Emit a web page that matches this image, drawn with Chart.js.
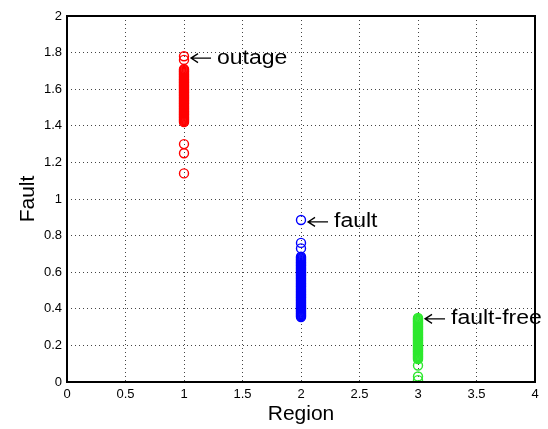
<!DOCTYPE html>
<html>
<head>
<meta charset="utf-8">
<script src="https://cdn.jsdelivr.net/npm/chart.js@4/dist/chart.umd.min.js"></script>
<style>
  html, body { margin: 0; padding: 0; background: #fff; }
  #wrap { width: 548px; height: 429px; }
</style>
</head>
<body>
<div id="wrap"><canvas id="c" width="548" height="429"></canvas></div>
<script>
// Region indices of the three groups
const regions = [1, 2, 3];
const groupNames = ['outage', 'fault', 'fault-free'];

// Fault values for each region
const outageValues = [1.14, 1.25, 1.30,
  1.420, 1.425, 1.430, 1.435, 1.440, 1.445, 1.450, 1.455, 1.460, 1.465, 1.470, 1.475,
  1.480, 1.485, 1.490, 1.495, 1.500, 1.505, 1.510, 1.515, 1.520, 1.525, 1.530, 1.535,
  1.540, 1.545, 1.550, 1.555, 1.560, 1.565, 1.570, 1.575, 1.580, 1.585, 1.590, 1.595,
  1.600, 1.605, 1.610, 1.615, 1.620, 1.625, 1.630, 1.635, 1.640, 1.645, 1.650, 1.655,
  1.660, 1.665, 1.670, 1.675, 1.680, 1.685, 1.690, 1.695, 1.700, 1.705, 1.710,
  1.76, 1.78];
const faultValues = [0.355, 0.360, 0.365, 0.370, 0.375, 0.380, 0.385, 0.390, 0.395,
  0.400, 0.405, 0.410, 0.415, 0.420, 0.425, 0.430, 0.435, 0.440, 0.445, 0.450, 0.455,
  0.460, 0.465, 0.470, 0.475, 0.480, 0.485, 0.490, 0.495, 0.500, 0.505, 0.510, 0.515,
  0.520, 0.525, 0.530, 0.535, 0.540, 0.545, 0.550, 0.555, 0.560, 0.565, 0.570, 0.575,
  0.580, 0.585, 0.590, 0.595, 0.600, 0.605, 0.610, 0.615, 0.620, 0.625, 0.630, 0.635,
  0.640, 0.645, 0.650, 0.655, 0.660, 0.665, 0.670, 0.675, 0.680, 0.685,
  0.73, 0.76, 0.885];
const faultFreeValues = [0.01, 0.03, 0.09,
  0.125, 0.130, 0.135, 0.140, 0.145, 0.150, 0.155, 0.160, 0.165, 0.170, 0.175, 0.180,
  0.185, 0.190, 0.195, 0.200, 0.205, 0.210, 0.215, 0.220, 0.225, 0.230, 0.235, 0.240,
  0.245, 0.250, 0.255, 0.260, 0.265, 0.270, 0.275, 0.280, 0.285, 0.290, 0.295, 0.300,
  0.305, 0.310, 0.315, 0.320, 0.325, 0.330, 0.335, 0.340, 0.345, 0.350];

// Tick settings
const xTicks = [0, 0.5, 1, 1.5, 2, 2.5, 3, 3.5, 4];
const yTicks = [0, 0.2, 0.4, 0.6, 0.8, 1, 1.2, 1.4, 1.6, 1.8, 2];

// Annotation anchors (data coordinates of arrow tips)
const labelTexts = ['outage', 'fault', 'fault-free'];
const labelX = [1.06, 2.06, 3.06];
const labelY = [1.77, 0.875, 0.345];

const colors = ['#ff0000', '#0000ff', '#2ee82e'];
const seriesValues = [outageValues, faultValues, faultFreeValues];

const datasets = seriesValues.map((vals, i) => ({
  label: groupNames[i],
  data: vals.map(v => ({ x: regions[i], y: v })),
  borderColor: colors[i],
  backgroundColor: 'rgba(0,0,0,0)',
  pointRadius: 4.5,
  pointHoverRadius: 4.5,
  pointBorderWidth: 1.4,
  showLine: false
}));

const FONT = "'Liberation Sans', Arial, 'DejaVu Sans', sans-serif";

const framePlugin = {
  id: 'frame',
  afterDatasetsDraw(chart) {
    const ctx = chart.ctx;
    const xs = chart.scales.x, ys = chart.scales.y;
    ctx.save();
    ctx.fillStyle = '#000';
    ctx.strokeStyle = '#000';
    ctx.lineWidth = 1.3;
    ctx.font = "20px " + FONT;
    ctx.textAlign = 'left';
    ctx.textBaseline = 'middle';
    for (let i = 0; i < labelTexts.length; i++) {
      const px = xs.getPixelForValue(labelX[i]);
      const py = ys.getPixelForValue(labelY[i]);
      // arrow
      ctx.beginPath();
      ctx.moveTo(px + 20, py);
      ctx.lineTo(px, py);
      ctx.moveTo(px + 7, py - 4.5);
      ctx.lineTo(px, py);
      ctx.lineTo(px + 7, py + 4.5);
      ctx.stroke();
      // text (slightly wide, as in the reference)
      ctx.save();
      ctx.translate(px + 26, py);
      ctx.scale(1.15, 1);
      ctx.fillText(labelTexts[i], 0, 0);
      ctx.restore();
    }
    ctx.restore();
  },
  afterDraw(chart) {
    const ctx = chart.ctx;
    const a = chart.chartArea;
    ctx.save();
    ctx.strokeStyle = '#000';
    ctx.lineWidth = 2;
    ctx.strokeRect(a.left, a.top, a.right - a.left, a.bottom - a.top);
    ctx.restore();
  }
};

new Chart(document.getElementById('c'), {
  type: 'scatter',
  data: { datasets },
  options: {
    responsive: false,
    animation: false,
    layout: { padding: { top: 16, right: 13, left: 0, bottom: 0 } },
    plugins: { legend: { display: false }, tooltip: { enabled: false } },
    scales: {
      x: {
        type: 'linear', min: 0, max: 4,
        afterBuildTicks: s => { s.ticks = xTicks.map(v => ({ value: v })); },
        afterFit: s => { s.height = 47; },
        grid: { color: '#444', lineWidth: 1, drawTicks: false },
        border: { display: false, dash: [1, 3] },
        ticks: { color: '#000', font: { size: 13, family: FONT }, padding: 5, maxRotation: 0,
                 callback: v => String(v) },
        title: { display: true, text: 'Region', color: '#000',
                 font: { size: 21, family: FONT }, padding: { top: 0, bottom: 2 } }
      },
      y: {
        type: 'linear', min: 0, max: 2,
        afterBuildTicks: s => { s.ticks = yTicks.map(v => ({ value: v })); },
        afterFit: s => { s.width = 67; },
        grid: { color: '#444', lineWidth: 1, drawTicks: false },
        border: { display: false, dash: [1, 3] },
        ticks: { color: '#000', font: { size: 13, family: FONT }, padding: 5,
                 callback: v => String(v) },
        title: { display: true, text: 'Fault', color: '#000',
                 font: { size: 21, family: FONT }, padding: { top: 16, bottom: 0 } }
      }
    }
  },
  plugins: [framePlugin]
});
</script>
</body>
</html>
